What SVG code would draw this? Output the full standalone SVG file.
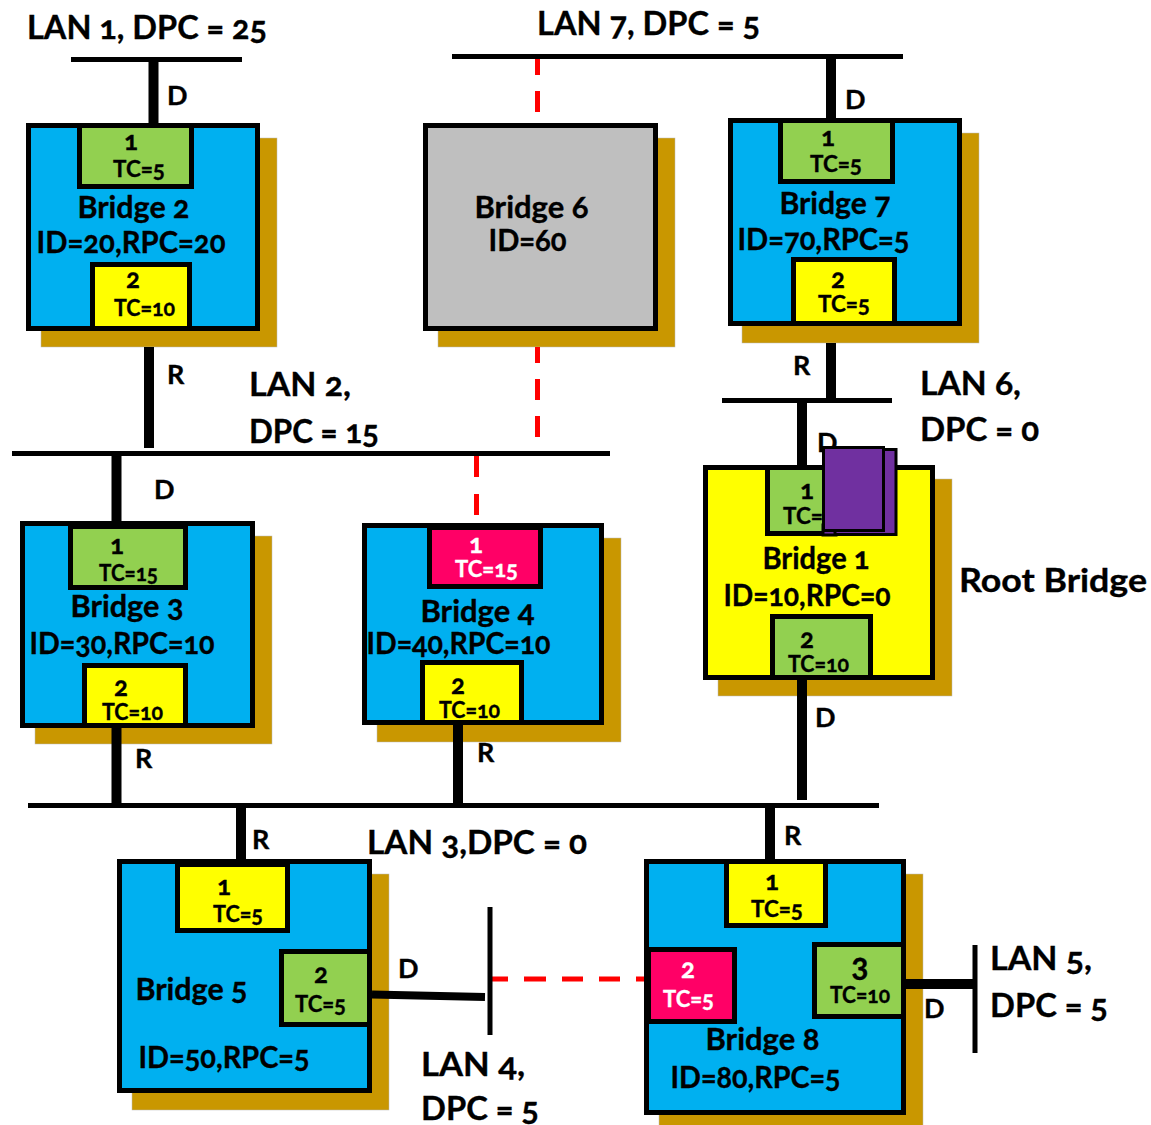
<svg xmlns="http://www.w3.org/2000/svg" width="1151" height="1125" viewBox="0 0 1151 1125">
<style>
text{font-family:"Lato","Open Sans","Liberation Sans",sans-serif;font-weight:700;fill:#000;stroke:#000;stroke-width:.35;font-feature-settings:"onum" 1,"lnum" 0;font-variant-numeric:oldstyle-nums}
.big{font-size:33px;transform:translate(-1px,1px)}.mid{font-size:30px;transform:translate(-.5px,1px)}.sm{font-size:22px}.num{font-size:26px;text-anchor:middle}.pl{font-size:27px}
text.w{fill:#fff;stroke:#fff}
.sh{fill:#c99700;stroke:#bbb;stroke-width:.5}
.box{stroke:#000;stroke-width:5}
.bl{fill:#00b0f0}.gr{fill:#bfbfbf}.ye{fill:#ff0}.ge{fill:#92d050}.pk{fill:#f06}
.lan{stroke:#000;stroke-width:5;fill:none}
.thick{stroke:#000;stroke-width:10;fill:none}
.red{stroke:#f00;stroke-width:5;fill:none}
.pu{fill:#7030a0;stroke:#000;stroke-width:3}
</style>
<g id="bridge2">
<rect class="sh" x="41" y="138" width="236" height="209"/>
<rect class="box bl" x="28.500" y="125.500" width="229" height="203"/>
<rect class="box ge" x="79.500" y="125.500" width="112" height="61"/>
<rect class="box ye" x="92.500" y="264.500" width="97" height="64"/>
<text class="num" x="131" y="150">1</text><text class="sm" x="113" y="177" textLength="52" lengthAdjust="spacingAndGlyphs">TC=5</text>
<text class="mid" x="78" y="217" textLength="112" lengthAdjust="spacingAndGlyphs">Bridge 2</text>
<text class="mid" x="37" y="252" textLength="189" lengthAdjust="spacingAndGlyphs">ID=20,RPC=20</text>
<text class="num" x="133" y="288">2</text><text class="sm" x="114" y="316" textLength="61" lengthAdjust="spacingAndGlyphs">TC=10</text>
</g>
<g id="bridge6">
<rect class="sh" x="438" y="138" width="237" height="209"/>
<rect class="box gr" x="425.500" y="125.500" width="230" height="203"/>
<text class="mid" x="475" y="217" textLength="114" lengthAdjust="spacingAndGlyphs">Bridge 6</text>
<text class="mid" x="489" y="250" textLength="78" lengthAdjust="spacingAndGlyphs">ID=60</text>
</g>
<g id="bridge7">
<rect class="sh" x="742" y="133" width="237" height="210"/>
<rect class="box bl" x="730.500" y="120.500" width="229" height="203"/>
<rect class="box ge" x="780.500" y="120.500" width="112" height="61"/>
<rect class="box ye" x="793.500" y="259.500" width="101" height="64"/>
<text class="num" x="828" y="146">1</text><text class="sm" x="810" y="172" textLength="52" lengthAdjust="spacingAndGlyphs">TC=5</text>
<text class="mid" x="780" y="213" textLength="111" lengthAdjust="spacingAndGlyphs">Bridge 7</text>
<text class="mid" x="738" y="249" textLength="172" lengthAdjust="spacingAndGlyphs">ID=70,RPC=5</text>
<text class="num" x="838" y="288">2</text><text class="sm" x="818" y="312" textLength="52" lengthAdjust="spacingAndGlyphs">TC=5</text>
</g>
<g id="bridge3">
<rect class="sh" x="35" y="536" width="237" height="208"/>
<rect class="box bl" x="22.500" y="523.500" width="230" height="202"/>
<rect class="box ge" x="70.500" y="526.500" width="115" height="61"/>
<rect class="box ye" x="84.500" y="665.500" width="101" height="60"/>
<text class="num" x="117" y="554">1</text><text class="sm" x="99" y="581" textLength="59" lengthAdjust="spacingAndGlyphs">TC=15</text>
<text class="mid" x="71" y="616" textLength="113" lengthAdjust="spacingAndGlyphs">Bridge 3</text>
<text class="mid" x="30" y="653" textLength="185" lengthAdjust="spacingAndGlyphs">ID=30,RPC=10</text>
<text class="num" x="121" y="696">2</text><text class="sm" x="102" y="720" textLength="61" lengthAdjust="spacingAndGlyphs">TC=10</text>
</g>
<g id="bridge4">
<rect class="sh" x="377" y="538" width="244" height="204"/>
<rect class="box bl" x="364.500" y="525.500" width="237" height="197"/>
<rect class="box pk" x="429.500" y="527.500" width="111" height="59"/>
<rect class="box ye" x="422.500" y="662.500" width="99" height="60"/>
<text class="num w" x="476" y="553">1</text><text class="sm w" x="455" y="577" textLength="63" lengthAdjust="spacingAndGlyphs">TC=15</text>
<text class="mid" x="421" y="621" textLength="114" lengthAdjust="spacingAndGlyphs">Bridge 4</text>
<text class="mid" x="367" y="653" textLength="184" lengthAdjust="spacingAndGlyphs">ID=40,RPC=10</text>
<text class="num" x="458" y="694">2</text><text class="sm" x="439" y="718" textLength="61" lengthAdjust="spacingAndGlyphs">TC=10</text>
</g>
<g id="bridge1">
<rect class="sh" x="718" y="479" width="234" height="217"/>
<rect class="box ye" x="705.500" y="467.500" width="227" height="210"/>
<rect class="box ge" x="767.500" y="467.500" width="100" height="66"/>
<rect class="box ge" x="772.500" y="616.500" width="98" height="61"/>
<text class="num" x="807" y="499">1</text><text class="sm" x="783" y="524" textLength="52" lengthAdjust="spacingAndGlyphs">TC=5</text>
<text class="mid" x="763" y="568" textLength="107" lengthAdjust="spacingAndGlyphs">Bridge 1</text>
<text class="mid" x="724" y="605" textLength="167" lengthAdjust="spacingAndGlyphs">ID=10,RPC=0</text>
<text class="num" x="807" y="648">2</text><text class="sm" x="788" y="672" textLength="61" lengthAdjust="spacingAndGlyphs">TC=10</text>
</g>
<g id="bridge5">
<rect class="sh" x="132" y="874" width="257" height="236"/>
<rect class="box bl" x="119.500" y="861.500" width="250" height="229"/>
<rect class="box ye" x="177.500" y="864.500" width="110" height="66"/>
<rect class="box ge" x="281.500" y="951.500" width="88" height="73"/>
<text class="num" x="224" y="895">1</text><text class="sm" x="213" y="922" textLength="50" lengthAdjust="spacingAndGlyphs">TC=5</text>
<text class="num" x="321" y="983">2</text><text class="sm" x="295" y="1012" textLength="51" lengthAdjust="spacingAndGlyphs">TC=5</text>
<text class="mid" x="136" y="999" textLength="112" lengthAdjust="spacingAndGlyphs">Bridge 5</text>
<text class="mid" x="139" y="1067" textLength="171" lengthAdjust="spacingAndGlyphs">ID=50,RPC=5</text>
</g>
<g id="bridge8">
<rect class="sh" x="659" y="874" width="264" height="260"/>
<rect class="box bl" x="646.500" y="861.500" width="257" height="251"/>
<rect class="box ye" x="726.500" y="861.500" width="99" height="64"/>
<rect class="box pk" x="648.500" y="949.500" width="86" height="72"/>
<rect class="box ge" x="814.500" y="944.500" width="89" height="72"/>
<text class="num" x="772" y="890">1</text><text class="sm" x="751" y="917" textLength="52" lengthAdjust="spacingAndGlyphs">TC=5</text>
<text class="num w" x="688" y="978">2</text><text class="sm w" x="663" y="1007" textLength="51" lengthAdjust="spacingAndGlyphs">TC=5</text>
<text class="num" x="860" y="976" style="font-size:32px">3</text><text class="sm" x="830" y="1003" textLength="60" lengthAdjust="spacingAndGlyphs">TC=10</text>
<text class="mid" x="706" y="1049" textLength="114" lengthAdjust="spacingAndGlyphs">Bridge 8</text>
<text class="mid" x="671" y="1087" textLength="170" lengthAdjust="spacingAndGlyphs">ID=80,RPC=5</text>
</g>
<g id="connectors">
<path class="red" d="M537.500 54V75M537.500 91V112M537.500 347V363M537.500 379V400M537.500 416V437M476.500 456V477M476.500 494V515M492 979H508M524 979H546M562 979H583M599 979H620M636 979H644"/>
<path class="lan" d="M71 59.500H242M452 56.500H903M12 453.500H610M722 400.500H892M28 805.500H879M490 907V1035M975 945V1053"/>
<path class="thick" d="M153.500 59V123M831 56V118M149 347V448M116.500 453V521M831 343V398M802 400V465M802 680V800M116.500 728V805M458 725V805M241 805V860M770 805V859M906 984H975"/>
<path d="M372 994.500L485 997" stroke="#000" stroke-width="8" fill="none"/>
</g>
<g id="labels">
<text class="big" x="28" y="38" textLength="240" lengthAdjust="spacingAndGlyphs">LAN 1, DPC = 25</text>
<text class="big" x="538" y="34" textLength="223" lengthAdjust="spacingAndGlyphs">LAN 7, DPC = 5</text>
<text class="big" x="250" y="395" textLength="102" lengthAdjust="spacingAndGlyphs">LAN 2,</text>
<text class="big" x="250" y="442" textLength="130" lengthAdjust="spacingAndGlyphs">DPC = 15</text>
<text class="big" x="921" y="394" textLength="101" lengthAdjust="spacingAndGlyphs">LAN 6,</text>
<text class="big" x="921" y="440" textLength="119" lengthAdjust="spacingAndGlyphs">DPC = 0</text>
<text class="big" x="368" y="853" textLength="220" lengthAdjust="spacingAndGlyphs">LAN 3,DPC = 0</text>
<text class="big" x="422" y="1075" textLength="104" lengthAdjust="spacingAndGlyphs">LAN 4,</text>
<text class="big" x="422" y="1119" textLength="118" lengthAdjust="spacingAndGlyphs">DPC = 5</text>
<text class="big" x="991" y="969" textLength="102" lengthAdjust="spacingAndGlyphs">LAN 5,</text>
<text class="big" x="991" y="1016" textLength="118" lengthAdjust="spacingAndGlyphs">DPC = 5</text>
<text class="big" x="960" y="591" textLength="188" lengthAdjust="spacingAndGlyphs">Root Bridge</text>
<text class="pl" x="167" y="105">D</text><text class="pl" x="845" y="109">D</text><text class="pl" x="154" y="499">D</text><text class="pl" x="817" y="452">D</text><text class="pl" x="815" y="727">D</text><text class="pl" x="398" y="978">D</text><text class="pl" x="924" y="1018">D</text>
<text class="pl" x="167" y="384">R</text><text class="pl" x="793" y="375">R</text><text class="pl" x="135" y="768">R</text><text class="pl" x="477" y="762">R</text><text class="pl" x="252" y="849">R</text><text class="pl" x="784" y="845">R</text>
</g>
<g id="overlay">
<rect class="pu" x="823" y="525" width="13" height="10"/>
<rect class="pu" x="835" y="449.500" width="61" height="85"/>
<rect class="pu" x="823.500" y="447.500" width="60" height="83"/>
</g>
</svg>
